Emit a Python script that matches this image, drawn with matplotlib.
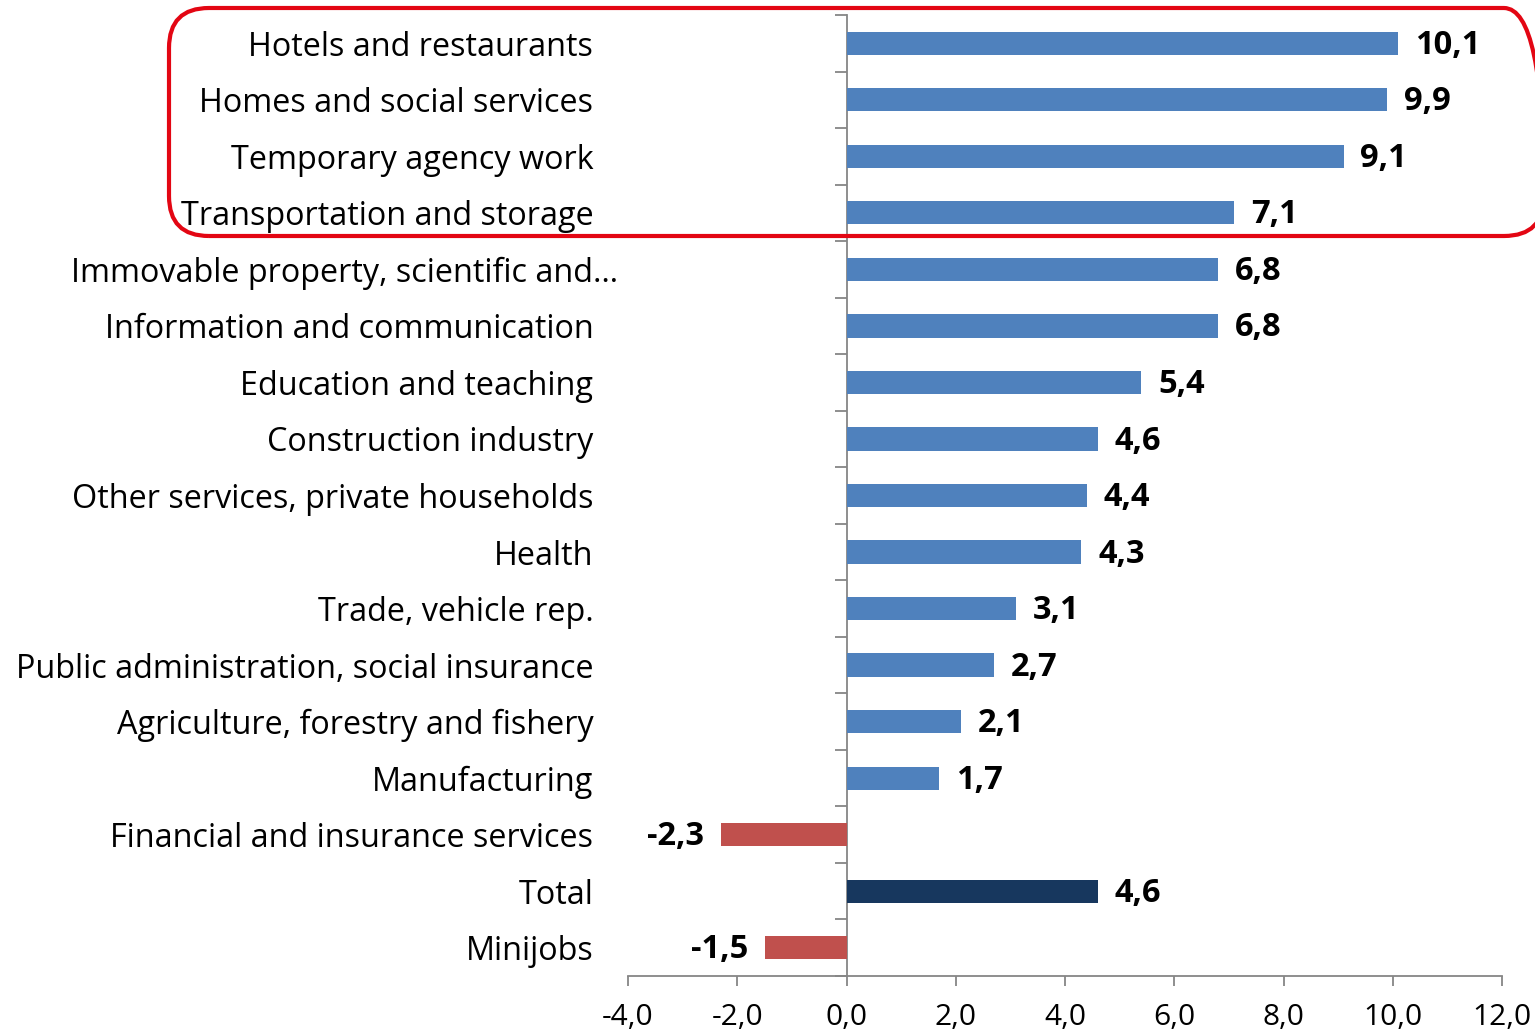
import matplotlib.pyplot as plt
from matplotlib.patches import FancyBboxPatch
from matplotlib.transforms import ScaledTranslation

categories = ['Hotels and restaurants', 'Homes and social services', 'Temporary agency work',
              'Transportation and storage', 'Immovable property, scientific and…',
              'Information and communication', 'Education and teaching', 'Construction industry',
              'Other services, private households', 'Health', 'Trade, vehicle rep.',
              'Public administration, social insurance', 'Agriculture, forestry and fishery',
              'Manufacturing', 'Financial and insurance services', 'Total', 'Minijobs']
values = [10.1, 9.9, 9.1, 7.1, 6.8, 6.8, 5.4, 4.6, 4.4, 4.3, 3.1, 2.7, 2.1, 1.7, -2.3, 4.6, -1.5]
x_ticks = [-4, -2, 0, 2, 4, 6, 8, 10, 12]

blue, red, navy = '#4F81BD', '#C0504D', '#17375E'
colors = [navy if c == 'Total' else (red if v < 0 else blue) for c, v in zip(categories, values)]

plt.rcParams['font.family'] = ['Open Sans', 'DejaVu Sans']
fig = plt.figure(figsize=(15.35, 10.31), dpi=100)
ax = fig.add_axes([628 / 1535, 1 - 976 / 1031, (1502 - 628) / 1535, (976 - 15) / 1031])

pos = list(range(len(categories)))
bars = ax.barh(pos, values, height=0.41, color=colors)
vlabels = ax.bar_label(bars, labels=[f'{v:.1f}'.replace('.', ',') for v in values],
                       padding=12, fontsize=23.5, fontweight='bold')
for t in vlabels:
    t.xyann = (t.xyann[0], t.xyann[1] - 1.5)

ax.set_xlim(-4, 12)
ax.set_ylim(len(categories) - 0.5, -0.5)
ax.set_xticks(x_ticks)
ax.set_xticklabels([f'{t:.1f}'.replace('.', ',') for t in x_ticks])
ax.set_yticks(pos)
ax.set_yticklabels(categories)
ax.tick_params(axis='y', length=0, pad=25, labelsize=23.3)
ax.tick_params(axis='x', length=7, width=1.3, color='#868686', pad=12.5, labelsize=21.5)

# the truncated label hangs a little past the others
lbl = ax.get_yticklabels()[4]
lbl.set_transform(lbl.get_transform() + ScaledTranslation(0.25, 0, fig.dpi_scale_trans))

for s in ['top', 'right', 'left']:
    ax.spines[s].set_visible(False)
ax.spines['bottom'].set_color('#868686')
ax.spines['bottom'].set_linewidth(1.3)

# zero line with category separators
zero = ax.secondary_yaxis(0.25)
zero.set_yticks([p - 0.5 for p in pos] + [len(categories) - 0.5])
zero.set_yticklabels([])
zero.tick_params(length=8.5, width=1.3, color='#868686')
zero.spines['left'].set_color('#868686')
zero.spines['left'].set_linewidth(1.3)

box = FancyBboxPatch((1.69, 7.95), 13.75, 2.28, boxstyle='round,pad=0,rounding_size=0.4',
                     transform=fig.dpi_scale_trans, fill=False, edgecolor='#E30613',
                     linewidth=3, clip_on=False)
fig.patches.append(box)

fig.savefig('out.png', dpi=100)
